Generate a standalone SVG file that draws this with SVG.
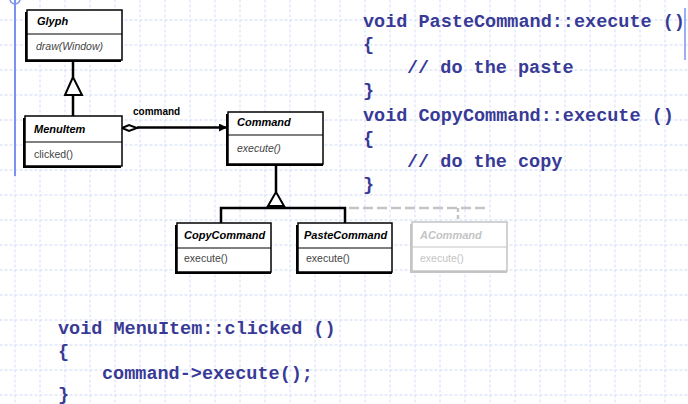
<svg xmlns="http://www.w3.org/2000/svg" width="688" height="404" viewBox="0 0 688 404">
<defs>
<pattern id="grid" x="14.5" y="19.5" width="25" height="25" patternUnits="userSpaceOnUse">
<path d="M0 0 H25 M0 0 V25" fill="none" stroke="#bfcdf6" stroke-width="1.3" stroke-dasharray="3 2"/>
</pattern>
<marker id="filled" viewBox="0 0 10 10" refX="10" refY="5" markerWidth="12" markerHeight="8" markerUnits="userSpaceOnUse" orient="auto">
<path d="M0 0 L10 5 L0 10 Z" fill="#000"/>
</marker>
</defs>
<style>
.box{fill:#fff;stroke:#000;stroke-width:1.5}
.shadow{fill:#000}
.gbox{fill:#fff;stroke:#c4c4c4;stroke-width:1.5}
.gshadow{fill:#c4c4c4}
.title{font-family:"Liberation Sans",Arial,sans-serif;font-size:11px;font-weight:bold;font-style:italic;fill:#000}
.op{font-family:"Liberation Sans",Arial,sans-serif;font-size:10.5px;fill:#444}
.opi{font-family:"Liberation Sans",Arial,sans-serif;font-size:10.5px;font-style:italic;fill:#444}
.gt{fill:#c4c4c4}
.code{font-family:"Liberation Mono","Courier New",monospace;font-size:18.5px;font-weight:bold;fill:#383a96}
.conn{fill:none;stroke:#000;stroke-width:2.5}
.gconn{fill:none;stroke:#c4c4c4;stroke-width:2.5;stroke-dasharray:10 4}
</style>
<rect width="688" height="404" fill="#fff"/>
<rect width="688" height="404" fill="url(#grid)"/>
<g id="frame">
<line x1="15" y1="0" x2="15" y2="176" stroke="#7b93f0" stroke-width="2"/>
<circle cx="15" cy="-1" r="5" fill="none" stroke="#7b93f0" stroke-width="1.5"/>
<line x1="685" y1="8" x2="685" y2="60" stroke="#7b93f0" stroke-width="1.5"/>
</g>
<g id="connectors">
<line class="conn" x1="73" y1="60" x2="73" y2="77"/>
<path d="M73 77 L65 95 L82 95 Z" fill="#fff" stroke="#000" stroke-width="2"/>
<line class="conn" x1="73" y1="95" x2="73" y2="116"/>
<line class="conn" x1="137" y1="127.5" x2="227" y2="127.5" marker-end="url(#filled)"/>
<path d="M122 128 L129 125 L137 128 L129 131 Z" fill="#fff" stroke="#000" stroke-width="2"/>
<text x="133" y="115" style="font-family:'Liberation Sans',Arial,sans-serif;font-size:10px;font-weight:bold;fill:#000">command</text>
<line class="conn" x1="276" y1="164" x2="276" y2="192"/>
<path d="M276 192 L268 206 L284 206 Z" fill="#fff" stroke="#000" stroke-width="2"/>
<path class="conn" d="M221 223 V208 H345 V223"/>
<path class="gconn" d="M349 208 H488"/>
<path class="gconn" d="M458 208 V222" style="stroke-dasharray:4 3"/>
</g>
<g id="glyph">
<rect class="shadow" x="25" y="12" width="96" height="50"/>
<rect class="box" x="27" y="10" width="95" height="50"/>
<line x1="27" y1="34" x2="122" y2="34" stroke="#000" stroke-width="1"/>
<text class="title" x="37" y="25">Glyph</text>
<text class="opi" x="36" y="50">draw(Window)</text>
</g>
<g id="menuitem">
<rect class="shadow" x="23" y="118" width="98" height="50"/>
<rect class="box" x="25" y="116" width="97" height="50"/>
<line x1="25" y1="142" x2="122" y2="142" stroke="#000" stroke-width="1"/>
<text class="title" x="34" y="133">MenuItem</text>
<text class="op" x="34" y="158">clicked()</text>
</g>
<g id="command">
<rect class="shadow" x="226" y="114" width="97" height="52"/>
<rect class="box" x="228" y="112" width="95" height="52"/>
<line x1="228" y1="135" x2="323" y2="135" stroke="#000" stroke-width="1"/>
<text class="title" x="237" y="126">Command</text>
<text class="opi" x="237" y="152">execute()</text>
</g>
<g id="copycommand">
<rect class="shadow" x="175" y="225" width="96" height="49"/>
<rect class="box" x="177" y="223" width="94" height="49"/>
<line x1="177" y1="248" x2="271" y2="248" stroke="#000" stroke-width="1"/>
<text class="title" x="184" y="239">CopyCommand</text>
<text class="op" x="184" y="262">execute()</text>
</g>
<g id="pastecommand">
<rect class="shadow" x="296" y="225" width="96" height="49"/>
<rect class="box" x="298" y="223" width="94" height="49"/>
<line x1="298" y1="248" x2="392" y2="248" stroke="#000" stroke-width="1"/>
<text class="title" x="304" y="239">PasteCommand</text>
<text class="op" x="306" y="262">execute()</text>
</g>
<g id="acommand">
<rect class="gshadow" x="410" y="224" width="97" height="49"/>
<rect class="gbox" x="412" y="222" width="95" height="49"/>
<line x1="412" y1="247" x2="507" y2="247" stroke="#c4c4c4" stroke-width="1"/>
<text class="title gt" x="420" y="239">ACommand</text>
<text class="op gt" x="420" y="262">execute()</text>
</g>
<g id="code-paste">
<text class="code" x="363" y="27">void PasteCommand::execute ()</text>
<text class="code" x="363" y="50">{</text>
<text class="code" x="407" y="73">// do the paste</text>
<text class="code" x="363" y="96">}</text>
</g>
<g id="code-copy">
<text class="code" x="363" y="121">void CopyCommand::execute ()</text>
<text class="code" x="363" y="144">{</text>
<text class="code" x="407" y="167">// do the copy</text>
<text class="code" x="363" y="190">}</text>
</g>
<g id="code-clicked">
<text class="code" x="58" y="334">void MenuItem::clicked ()</text>
<text class="code" x="58" y="357">{</text>
<text class="code" x="102" y="379">command-&gt;execute();</text>
<text class="code" x="58" y="400">}</text>
</g>
</svg>
